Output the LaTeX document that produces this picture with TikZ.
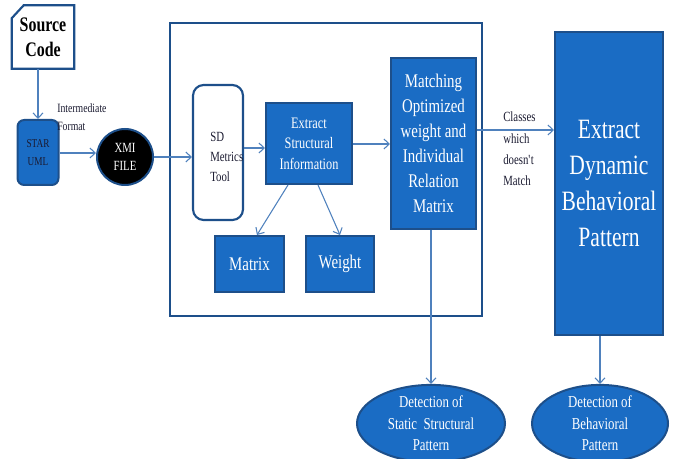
\documentclass[tikz,border=0pt]{standalone}
\usepackage{fontspec}
\setmainfont{Liberation Serif}[FakeStretch=0.77]
\usetikzlibrary{shapes.geometric,arrows.meta,calc}
\definecolor{boxfill}{HTML}{1A6CC4}
\definecolor{boxline}{HTML}{1D4F8A}
\definecolor{arrline}{HTML}{4F81BD}
\definecolor{darktext}{HTML}{1A1A30}
\tikzset{
  bluebox/.style={rectangle, fill=boxfill, draw=boxline, line width=1.5pt, text=white, align=center, inner sep=1pt},
  blueell/.style={ellipse, fill=boxfill, draw=boxline, line width=1.5pt, text=white, align=center, inner sep=0pt},
  arr/.style={draw=arrline, line width=0.8pt, -{Straight Barb[length=4pt,width=7.5pt]}},
  plainlabel/.style={text=darktext, align=left, inner sep=0pt, anchor=north west},
}
\begin{document}
\begin{tikzpicture}[x=0.75pt,y=-0.75pt]
\useasboundingbox (0,0) rectangle (673,459);
% container
\draw[boxline, line width=1.6pt] (170,23) rectangle (482,316);
% source code
\node[rectangle, minimum width=46.5pt, minimum height=47.25pt, inner sep=0pt, align=center, font=\fontsize{15.5}{19}\selectfont\bfseries] (src) at (43,37) {Source\\Code};
\draw[boxline, line width=1.6pt] (src.south west) -- (src.south east) -- (src.north east) -- ($(src.north west)+(12,0)$) -- ($(src.north west)+(0,13)$) -- cycle;
% star uml
\node[bluebox, rounded corners=5pt, minimum width=30.75pt, minimum height=48.75pt, text=darktext, font=\fontsize{9}{14}\selectfont] (star) at (38,152.5) {STAR\\UML};
% xmi
\node[circle, fill=black, draw=boxline, line width=1.5pt, minimum size=42pt, inner sep=0pt, text=white, align=center, font=\fontsize{10.5}{13.5}\selectfont] (xmi) at (125,157) {XMI\\FILE};
% sd metrics
\node[rectangle, rounded corners=8pt, draw=boxline, line width=1.6pt, fill=white, minimum width=37.5pt, minimum height=101.25pt] (sd) at (218,152.5) {};
\node[plainlabel, anchor=west, font=\fontsize{10.5}{15}\selectfont] (sdtext) at (210,157) {SD\\Metrics\\Tool};
% extract structural
\node[bluebox, minimum width=64.5pt, minimum height=60.75pt, font=\fontsize{12}{15.4}\selectfont] (ext) at (309,143.5) {Extract\\Structural\\Information};
\node[bluebox, minimum width=51.75pt, minimum height=42pt, font=\fontsize{14.5}{16}\selectfont] (mat) at (249.5,264) {Matrix};
\node[bluebox, minimum width=51pt, minimum height=42pt, font=\fontsize{14.5}{16}\selectfont] (wei) at (340,264) {Weight};
% matching
\node[bluebox, minimum width=63.75pt, minimum height=128.25pt, font=\fontsize{14.5}{18.75}\selectfont] (match) at (433.5,143.5) {Matching\\Optimized\\weight and\\Individual\\Relation\\Matrix};
% dynamic
\node[bluebox, minimum width=81pt, minimum height=227.25pt, font=\fontsize{21}{27}\selectfont] (dyn) at (609,183.5) {Extract\\Dynamic\\Behavioral\\Pattern};
% ellipses
\node[blueell, minimum width=111pt, minimum height=51.75pt, font=\fontsize{12.5}{16}\selectfont] (stat) at (431,423.5) {Detection of\\Static\ \ Structural\\Pattern};
\node[blueell, minimum width=102pt, minimum height=51.75pt, font=\fontsize{12.5}{16}\selectfont] (beh) at (600,423.5) {Detection of\\Behavioral\\Pattern};
% labels
\node[plainlabel, font=\fontsize{9.5}{13.5}\selectfont] (imf) at (57,103) {Intermediate\\Format};
\node[plainlabel, font=\fontsize{10.5}{16}\selectfont] (cls) at (503,112) {Classes\\which\\doesn\textquotesingle t\\Match};
% connectors
\draw[arr] (star.north |- src.south) -- (star.north);
\draw[arr] (star.east |- 0,153) -- (xmi.west |- 0,153);
\draw[arr] (xmi.east) -- (xmi.east -| sd.west);
\draw[arr] (sd.east |- 0,148) -- (ext.west |- 0,148);
\draw[arr] (ext.east |- 0,144) -- (match.west |- 0,144);
\draw[arr] ([xshift=-15.75pt]ext.south) -- ([xshift=5.6pt]mat.north);
\draw[arr] ([xshift=6.75pt]ext.south) -- (wei.north);
\draw[arr] (match.east |- 0,130) -- (dyn.west |- 0,130);
\draw[arr] (stat.north |- match.south) -- (stat.north);
\draw[arr] (beh.north |- dyn.south) -- (beh.north);
\end{tikzpicture}
\end{document}
